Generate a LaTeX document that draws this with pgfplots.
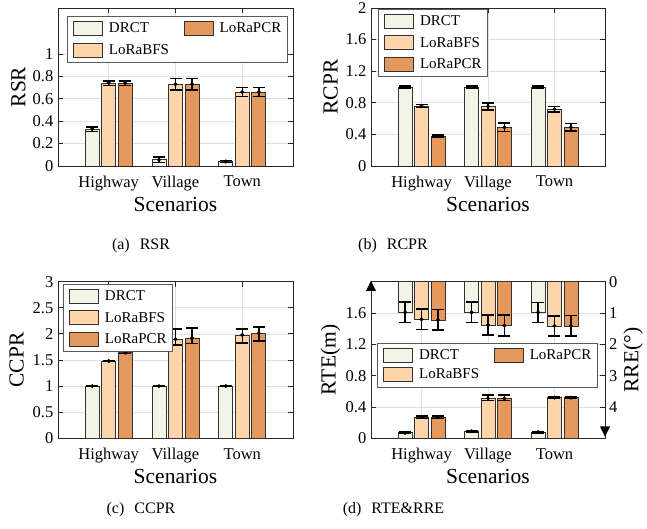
\documentclass[border=0pt]{standalone}
\usepackage{fontspec}
\setmainfont{Liberation Serif}
\usepackage{pgfplots}
\usepackage{pgfplotstable}
\pgfplotsset{compat=1.18}

\definecolor{cD}{RGB}{242,245,230}
\definecolor{cB}{RGB}{254,212,170}
\definecolor{cP}{RGB}{228,152,92}
\definecolor{axc}{RGB}{38,38,38}
\definecolor{gridc}{RGB}{225,225,225}
\definecolor{edgec}{RGB}{50,50,50}

% RSR
\pgfplotstableread{
x D Dp Dm B Bp Bm P Pp Pm
0 0.33 0.02 0.02 0.74 0.02 0.02 0.74 0.02 0.02
1 0.055 0.025 0.025 0.73 0.05 0.05 0.73 0.05 0.05
2 0.04 0.01 0.01 0.66 0.04 0.04 0.66 0.04 0.04
}\tRSR
% RCPR
\pgfplotstableread{
x D Dp Dm B Bp Bm P Pp Pm
0 1.0 0.01 0.01 0.76 0.02 0.02 0.38 0.01 0.01
1 1.0 0.01 0.01 0.755 0.045 0.045 0.49 0.055 0.055
2 1.0 0.01 0.01 0.72 0.035 0.035 0.49 0.045 0.045
}\tRCPR
% CCPR
\pgfplotstableread{
x D Dp Dm B Bp Bm P Pp Pm
0 1.0 0.01 0.01 1.48 0.01 0.01 1.64 0.02 0.02
1 1.0 0.01 0.01 1.90 0.19 0.11 1.92 0.19 0.10
2 1.0 0.01 0.01 1.98 0.11 0.15 2.01 0.12 0.15
}\tCCPR
% RTE
\pgfplotstableread{
x D Dp Dm B Bp Bm P Pp Pm
0 0.07 0.01 0.01 0.27 0.015 0.015 0.27 0.015 0.015
1 0.09 0.01 0.01 0.51 0.045 0.025 0.51 0.045 0.025
2 0.08 0.01 0.01 0.52 0.01 0.01 0.52 0.01 0.01
}\tRTE
% RRE
\pgfplotstableread{
x D Dp Dm B Bp Bm P Pp Pm
0 0.98 0.33 0.33 1.20 0.33 0.33 1.22 0.33 0.33
1 0.98 0.33 0.33 1.38 0.32 0.32 1.40 0.33 0.33
2 0.98 0.32 0.32 1.41 0.32 0.32 1.41 0.33 0.33
}\tRRE

\pgfplotsset{
  mylegimg/.style={legend image code/.code={\draw[##1] (0pt,-7pt) rectangle (29pt,7pt);}},
  mybar/.style={ybar, bar width=0.21, bar shift=0pt, draw=edgec, line width=0.7pt, fill=#1, mylegimg,
     error bars/.cd, y dir=both, y explicit,
     error bar style={black, line width=1.5pt},
     error mark options={black, line width=1.5pt, mark size=6pt, rotate=90}},
  mydot/.style={only marks, mark=*, mark size=1.8pt, black, forget plot},
  mybase/.style={
    scale only axis,
    xmin=-0.76, xmax=2.76,
    axis line style={axc, line width=0.8pt},
    tick style={axc, line width=0.8pt},
    major tick length=5pt,
    tick align=inside,
    /pgf/number format/assume math mode=true,
    tick label style={font=\fontsize{16.5}{16.5}\selectfont},
    label style={font=\fontsize{21.5}{21.5}\selectfont},
  },
  myaxis/.style={
    mybase,
    xtick={0,1,2}, xticklabels={Highway,Village,Town},
    xtick pos=both,
    xmajorgrids, ymajorgrids,
    major grid style={gridc, line width=0.6pt},
    xticklabel style={inner sep=0pt, anchor=north, yshift=-9.7pt},
    yticklabel style={inner sep=0pt, anchor=east, xshift=-4.5pt},
    xlabel={Scenarios},
    xlabel style={at={(axis description cs:0.5,0)}, anchor=center, yshift=-38.3pt},
    ymin=0,
    legend style={draw=black!65, line width=0.6pt, fill=white, inner xsep=6pt, inner ysep=5pt,
      font=\fontsize{15}{15}\selectfont, nodes={inner sep=0pt}, anchor=north west,
      /tikz/every odd column/.append style={column sep=6pt},
      /tikz/every even column/.append style={column sep=15pt}},
    legend cell align=left,
  },
}

\newcommand{\ser}[4]{%
  \addplot[mybar=#4] table[x expr=\thisrow{x}+(#3), y=#2, y error plus=#2p, y error minus=#2m] {#1};
  \addplot[mydot] table[x expr=\thisrow{x}+(#3), y=#2] {#1};
}

\begin{document}
\begin{tikzpicture}
\useasboundingbox[fill=white] (0,0) rectangle (647pt,529pt);

% (a) RSR
\begin{axis}[myaxis, at={(58pt,363pt)}, anchor=south west, width=235pt, height=158pt,
  ytick pos=both,
  ymax=1.41, ytick={0,0.2,0.4,0.6,0.8,1}, ylabel={RSR},
  ylabel style={at={(axis description cs:-0.169,0.5)}, anchor=center},
  legend columns=2, legend style={at={(axis description cs:0.038,0.949)}, row sep=7pt}]
\ser{\tRSR}{D}{-0.247}{cD}
\ser{\tRSR}{P}{0.247}{cP}
\ser{\tRSR}{B}{0}{cB}
\legend{DRCT,LoRaPCR,LoRaBFS}
\end{axis}

% (b) RCPR
\begin{axis}[myaxis, at={(371pt,363pt)}, anchor=south west, width=234pt, height=158pt,
  ytick pos=both,
  ymax=2, ytick={0,0.4,0.8,1.2,1.6,2}, ylabel={RCPR},
  ylabel style={at={(axis description cs:-0.173,0.5)}, anchor=center},
  legend style={at={(axis description cs:0.03,0.994)}, row sep=6.5pt}]
\ser{\tRCPR}{D}{-0.247}{cD}
\ser{\tRCPR}{B}{0}{cB}
\ser{\tRCPR}{P}{0.247}{cP}
\legend{DRCT,LoRaBFS,LoRaPCR}
\end{axis}

% (c) CCPR
\begin{axis}[myaxis, at={(58pt,90.7pt)}, anchor=south west, width=235pt, height=156.6pt,
  ytick pos=both,
  ymax=3, ytick={0,0.5,1,1.5,2,2.5,3}, ylabel={CCPR},
  ylabel style={at={(axis description cs:-0.176,0.5)}, anchor=center},
  legend style={at={(axis description cs:0.021,0.985)}, row sep=6.4pt}]
\ser{\tCCPR}{D}{-0.247}{cD}
\ser{\tCCPR}{B}{0}{cB}
\ser{\tCCPR}{P}{0.247}{cP}
\legend{DRCT,LoRaBFS,LoRaPCR}
\end{axis}

% (d) RTE (left)
\begin{axis}[myaxis, at={(371pt,90.7pt)}, anchor=south west, width=234pt, height=156.6pt,
  ytick pos=left,
  ymax=2, ytick={0,0.4,0.8,1.2,1.6}, ylabel={RTE(m)},
  ylabel style={at={(axis description cs:-0.173,0.5)}, anchor=center},
  legend columns=2, legend style={at={(axis description cs:0.026,0.61)}, row sep=4.6pt}]
\ser{\tRTE}{D}{-0.247}{cD}
\ser{\tRTE}{P}{0.247}{cP}
\ser{\tRTE}{B}{0}{cB}
\legend{DRCT,LoRaPCR,LoRaBFS}
\end{axis}

% (d) RRE (right, reversed)
\begin{axis}[mybase, at={(371pt,90.7pt)}, anchor=south west, width=234pt, height=156.6pt,
  axis x line=none, axis y line*=right, y dir=reverse,
  ymin=0, ymax=5, ytick={0,1,2,3,4},
  yticklabel style={inner sep=0pt, anchor=west, xshift=4pt},
  ylabel={RRE(°)},
  ylabel style={at={(axis description cs:1.12,0.5)}, anchor=center, rotate=0}]
\ser{\tRRE}{D}{-0.247}{cD}
\ser{\tRRE}{B}{0}{cB}
\ser{\tRRE}{P}{0.247}{cP}
\end{axis}

% arrows of panel (d)
\fill[black] (371pt,248.3pt) -- (366pt,238pt) -- (376pt,238pt) -- cycle;
\fill[black] (605pt,92.2pt) -- (600pt,102.5pt) -- (610pt,102.5pt) -- cycle;

% captions
\node[font=\fontsize{16}{16}\selectfont] at (141pt,283.2pt) {(a)\hspace{10pt}RSR};
\node[font=\fontsize{16}{16}\selectfont] at (393pt,283.2pt) {(b)\hspace{10pt}RCPR};
\node[font=\fontsize{16}{16}\selectfont] at (141pt,19.8pt) {(c)\hspace{10pt}CCPR};
\node[font=\fontsize{16}{16}\selectfont] at (393.5pt,19.8pt) {(d)\hspace{10pt}RTE\&RRE};
\end{tikzpicture}
\end{document}
